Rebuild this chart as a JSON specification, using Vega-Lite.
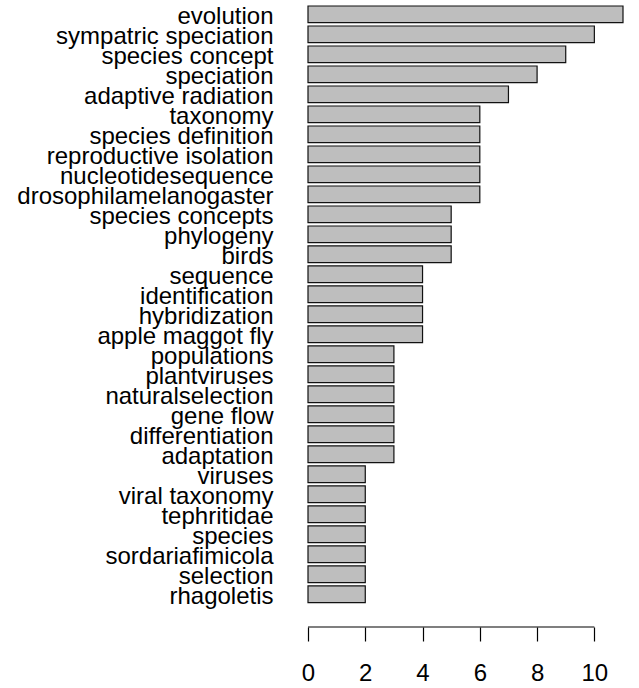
{
  "$schema": "https://vega.github.io/schema/vega-lite/v6.json",
  "width": 315,
  "height": 621,
  "autosize": {"type": "none"},
  "padding": {"left": 308, "top": 6, "right": 16, "bottom": 61},
  "background": "white",
  "config": {
    "view": {"stroke": null},
    "font": "Liberation Sans"
  },
  "layer": [
    {
      "data": {
        "values": [
          {"term": "evolution", "count": 11},
          {"term": "sympatric speciation", "count": 10},
          {"term": "species concept", "count": 9},
          {"term": "speciation", "count": 8},
          {"term": "adaptive radiation", "count": 7},
          {"term": "taxonomy", "count": 6},
          {"term": "species definition", "count": 6},
          {"term": "reproductive isolation", "count": 6},
          {"term": "nucleotidesequence", "count": 6},
          {"term": "drosophilamelanogaster", "count": 6},
          {"term": "species concepts", "count": 5},
          {"term": "phylogeny", "count": 5},
          {"term": "birds", "count": 5},
          {"term": "sequence", "count": 4},
          {"term": "identification", "count": 4},
          {"term": "hybridization", "count": 4},
          {"term": "apple maggot fly", "count": 4},
          {"term": "populations", "count": 3},
          {"term": "plantviruses", "count": 3},
          {"term": "naturalselection", "count": 3},
          {"term": "gene flow", "count": 3},
          {"term": "differentiation", "count": 3},
          {"term": "adaptation", "count": 3},
          {"term": "viruses", "count": 2},
          {"term": "viral taxonomy", "count": 2},
          {"term": "tephritidae", "count": 2},
          {"term": "species", "count": 2},
          {"term": "sordariafimicola", "count": 2},
          {"term": "selection", "count": 2},
          {"term": "rhagoletis", "count": 2}
        ]
      },
      "mark": {"type": "bar", "fill": "#bebebe", "stroke": "#111111", "strokeWidth": 1.2},
      "encoding": {
        "y": {
          "field": "term",
          "type": "nominal",
          "sort": null,
          "scale": {"paddingInner": 0.1667, "paddingOuter": 0.61, "align": 0},
          "axis": {
            "title": null,
            "domain": false,
            "ticks": false,
            "tickSize": 0,
            "labelPadding": 35,
            "labelFontSize": 24,
            "labelColor": "black",
            "labelLimit": 500,
            "labelOverlap": false,
            "labelBaseline": "middle",
            "labelOffset": 3
          }
        },
        "x": {
          "field": "count",
          "type": "quantitative",
          "scale": {"domain": [0, 11], "nice": false, "zero": true},
          "axis": {
            "title": null,
            "domain": false,
            "grid": false,
            "values": [0, 2, 4, 6, 8, 10],
            "ticks": true,
            "tickSize": 14,
            "tickColor": "black",
            "tickWidth": 1.2,
            "labelFontSize": 24,
            "labelColor": "black",
            "labelPadding": 20,
            "labelFlush": false
          }
        }
      }
    },
    {
      "data": {"values": [{"from": 0, "to": 10}]},
      "mark": {"type": "rule", "color": "black", "strokeWidth": 1.2},
      "encoding": {
        "x": {"field": "from", "type": "quantitative"},
        "x2": {"field": "to"},
        "y": {"value": "height"}
      }
    }
  ]
}
